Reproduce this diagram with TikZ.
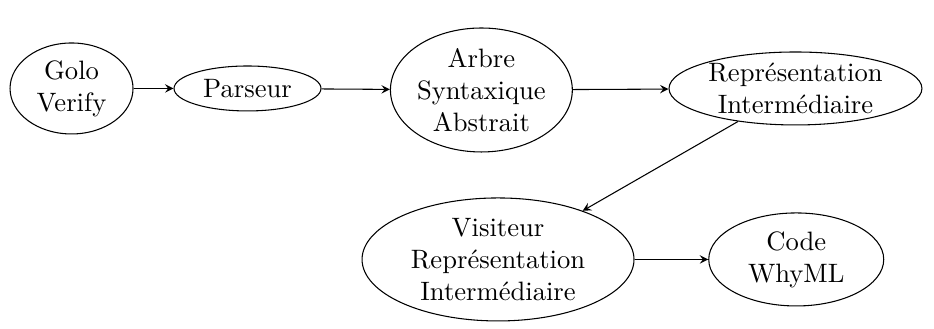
\documentclass[tikz,border=0pt]{standalone}
\usepackage{tikz}
\usetikzlibrary{arrows}
\usetikzlibrary{shapes.geometric}

\tikzset{
    etape/.style={draw, ellipse, align=center, inner sep=0pt},
    fleche/.style={-stealth}
}

\begin{document}
\begin{tikzpicture}
            % Frame to ensure alignment:
            \useasboundingbox                                                 (0.00, 0.00) rectangle (12.34, -4.346);
            % Top row
            \node[etape, minimum width=1.625cm, minimum height=1.202cm] (golo)     at ( 0.945, -1.169) {Golo\\Verify};
            \node[etape, minimum width=1.942cm, minimum height=0.594cm] (parseur)  at ( 3.270, -1.169) {Parseur};
            \node[etape, minimum width=2.338cm, minimum height=1.638cm] (arbre)    at ( 6.360, -1.189) {Arbre\\Syntaxique\\Abstrait};
            \node[etape, minimum width=3.342cm, minimum height=0.964cm] (repr)     at (10.510, -1.169) {Représentation\\Intermédiaire};
            % Bottom row
            \node[etape, minimum width=3.593cm, minimum height=1.625cm] (visiteur) at ( 6.580, -3.428) {Visiteur\\Représentation\\Intermédiaire};
            \node[etape, minimum width=2.312cm, minimum height=1.229cm] (whyml)    at (10.520, -3.428) {Code\\WhyML};
            % Links
            \draw[fleche] (golo)     -- (parseur);
            \draw[fleche] (parseur)  -- (arbre);
            \draw[fleche] (arbre)    -- (repr);
            \draw[fleche] (repr)     -- (visiteur);
            \draw[fleche] (visiteur) -- (whyml);
        \end{tikzpicture}
\end{document}
